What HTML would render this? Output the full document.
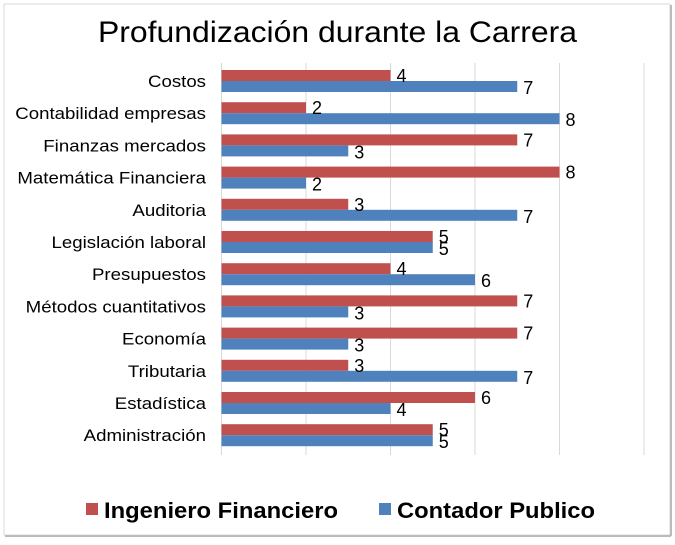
<!DOCTYPE html>
<html><head><meta charset="utf-8"><style>
body{margin:0;background:#fff;}
svg{display:block;font-family:"Liberation Sans",Arial,sans-serif;}
</style></head><body>
<svg width="675" height="545" viewBox="0 0 675 545">
<rect x="4" y="4" width="666" height="531" fill="#fff" stroke="#d9d9d9"/>
<line x1="5" y1="536" x2="671" y2="536" stroke="#bbb" stroke-width="2"/>
<line x1="671" y1="5" x2="671" y2="536" stroke="#bbb" stroke-width="2"/>
<text x="98" y="42" font-size="30" textLength="479" lengthAdjust="spacingAndGlyphs" fill="#000">Profundización durante la Carrera</text>
<g stroke="#d9d9d9" stroke-width="1">
<line x1="221.5" y1="63" x2="221.5" y2="455"/>
<line x1="306" y1="63" x2="306" y2="455"/>
<line x1="390.5" y1="63" x2="390.5" y2="455"/>
<line x1="475" y1="63" x2="475" y2="455"/>
<line x1="559.5" y1="63" x2="559.5" y2="455"/>
<line x1="644" y1="63" x2="644" y2="455"/>
</g>
<g id="bars"></g>
</svg>
<script>
var d=[["Costos",4,7],["Contabilidad empresas",2,8],["Finanzas mercados",7,3],["Matemática Financiera",8,2],["Auditoria",3,7],["Legislación laboral",5,5],["Presupuestos",4,6],["Métodos cuantitativos",7,3],["Economía",7,3],["Tributaria",3,7],["Estadística",6,4],["Administración",5,5]];
var g=document.getElementById('bars'),s='';
var x0=221.5,k=42.25;
d.forEach(function(r,i){var c=81+i*32.2;
s+='<text class="lab" x="206" y="'+(c+6)+'" font-size="16.5" text-anchor="end">'+r[0]+'</text>';
s+='<rect x="'+x0+'" y="'+(c-11)+'" width="'+r[1]*k+'" height="11" fill="#c0504d"/>';
s+='<rect x="'+x0+'" y="'+c+'" width="'+r[2]*k+'" height="11" fill="#4f81bd"/>';
s+='<text x="'+(x0+r[1]*k+6)+'" y="'+(c+1)+'" font-size="18">'+r[1]+'</text>';
s+='<text x="'+(x0+r[2]*k+6)+'" y="'+(c+13)+'" font-size="18">'+r[2]+'</text>';
});
s+='<rect x="86" y="503" width="12" height="12" fill="#c0504d"/><text x="104" y="518" font-size="22" font-weight="bold" textLength="234" lengthAdjust="spacingAndGlyphs">Ingeniero Financiero</text>';
s+='<rect x="379" y="503" width="12" height="12" fill="#4f81bd"/><text x="397" y="518" font-size="22" font-weight="bold" textLength="198" lengthAdjust="spacingAndGlyphs">Contador Publico</text>';
g.innerHTML=s;
var labs=document.querySelectorAll('.lab');
for(var i=0;i<labs.length;i++){var w=labs[i].getComputedTextLength();labs[i].setAttribute('textLength',(w*1.13).toFixed(1));labs[i].setAttribute('lengthAdjust','spacingAndGlyphs');}
</script>
</body></html>
